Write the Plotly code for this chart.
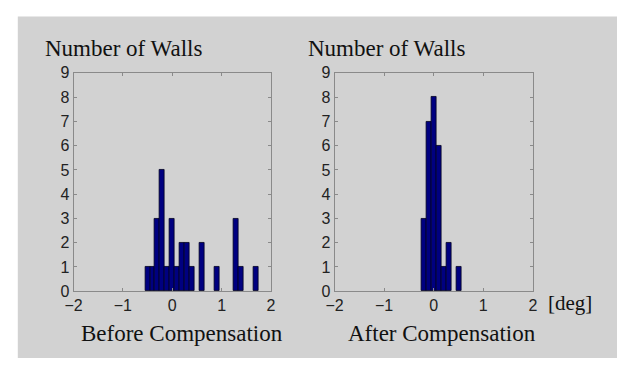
import plotly.graph_objects as go

# Histogram bin centres (deg) and wall counts, bin width 0.1
before_centers = [-0.5, -0.4, -0.3, -0.2, -0.1, 0.0, 0.1, 0.2, 0.3, 0.4, 0.6, 0.9, 1.3, 1.4, 1.7]
before_counts = [1, 1, 3, 5, 1, 3, 1, 2, 2, 1, 2, 1, 3, 1, 1]
after_centers = [-0.2, -0.1, 0.0, 0.1, 0.2, 0.3, 0.5]
after_counts = [3, 7, 8, 6, 1, 2, 1]
bin_width = 0.1

x_ticks = [-2, -1, 0, 1, 2]
x_tick_text = ["\u22122", "\u22121", "0", "1", "2"]
y_ticks = list(range(0, 10))

W, H = 622, 367
BAR_FILL = "#000080"
FRAME = "#8a8a8a"
SERIF = "Liberation Serif, Times New Roman, serif"
SANS = "Liberation Sans, Arial, sans-serif"


def px_x(p):
    return p / W


def px_y(p):
    return 1 - p / H


fig = go.Figure()
fig.add_trace(go.Bar(x=before_centers, y=before_counts, width=bin_width,
                     marker=dict(color=BAR_FILL, line=dict(color="#000020", width=0.8)),
                     xaxis="x", yaxis="y", showlegend=False))
fig.add_trace(go.Bar(x=after_centers, y=after_counts, width=bin_width,
                     marker=dict(color=BAR_FILL, line=dict(color="#000020", width=0.8)),
                     xaxis="x2", yaxis="y2", showlegend=False))

axis_common = dict(showgrid=False, zeroline=False, showline=True, linecolor=FRAME,
                   linewidth=1, mirror="ticks", ticks="inside", ticklen=3,
                   tickcolor=FRAME, tickwidth=1,
                   tickfont=dict(family=SANS, size=16, color="#222222"))

xdom_left = [px_x(66), px_x(268)]
xdom_right = [px_x(333), px_x(536)]
ydom = [px_y(297), px_y(68)]

fig.update_layout(
    width=W, height=H,
    margin=dict(l=0, r=0, t=0, b=0),
    paper_bgcolor="white",
    plot_bgcolor="white",
    bargap=0,
    xaxis=dict(domain=xdom_left, range=[-2, 2], tickvals=x_ticks, ticktext=x_tick_text,
               anchor="y", **axis_common),
    yaxis=dict(domain=ydom, range=[0, 9], tickvals=y_ticks, anchor="x", **axis_common),
    xaxis2=dict(domain=xdom_right, range=[-2, 2], tickvals=x_ticks, ticktext=x_tick_text,
                anchor="y2", **axis_common),
    yaxis2=dict(domain=ydom, range=[0, 9], tickvals=y_ticks, anchor="x2", **axis_common),
    shapes=[dict(type="rect", xref="paper", yref="paper", x0=px_x(9), x1=1,
                 y0=0, y1=px_y(9), fillcolor="#d2d2d2", line=dict(width=0),
                 layer="below")],
)

text_items = [
    ("Number of Walls", 35, 42, "left", 23),
    ("Number of Walls", 304, 42, "left", 23),
    ("Before Compensation", 177, 341, "center", 23),
    ("After Compensation", 443, 341, "center", 23),
    ("[deg]", 549, 309, "left", 21),
]
for txt, x, y, anchor, size in text_items:
    fig.add_annotation(text=txt, x=px_x(x), y=px_y(y), xref="paper", yref="paper",
                       xanchor=anchor, yanchor="middle", showarrow=False,
                       font=dict(family=SERIF, size=size, color="#111111"))

# the figure fills the page edge to edge
fig.write_html("out.html", post_script="document.body.style.margin='0px';")
